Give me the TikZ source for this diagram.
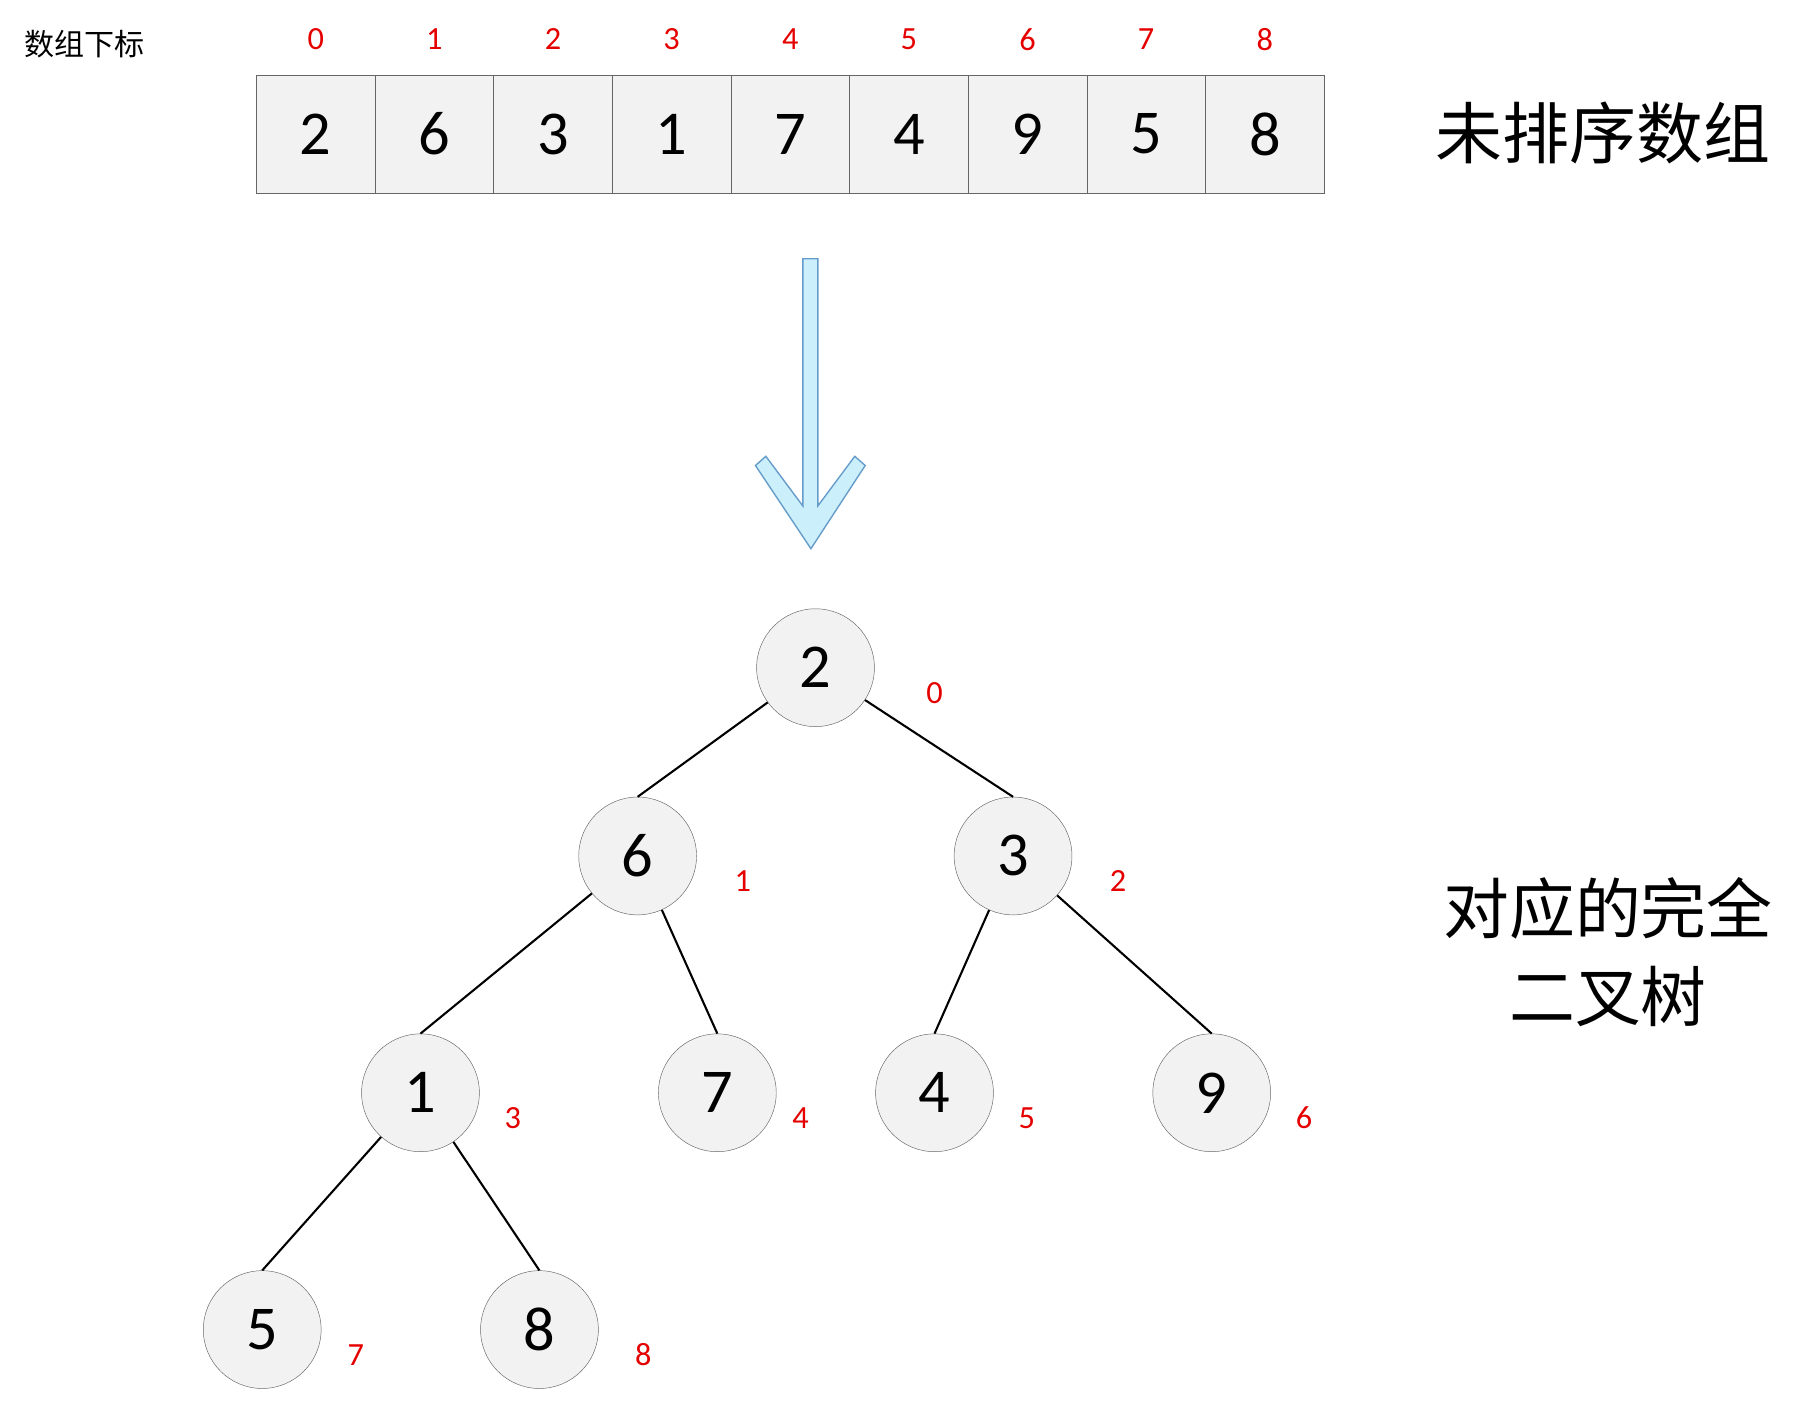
\documentclass[tikz,border=0pt]{standalone}
\usepackage{fontspec}
\setmainfont{Carlito}
\newfontfamily\cjk{Noto Sans CJK SC}
\begin{document}
\begin{tikzpicture}[x=1pt,y=-1pt,
  cell/.style={draw=gray!80!black,fill=black!5,minimum width=102.7pt,minimum height=102pt,inner sep=0,font=\fontsize{54}{60}\selectfont},
  idx/.style={text=red!90!black,font=\fontsize{28}{30}\selectfont},
  tnode/.style={circle,draw=gray!80!black,fill=black!5,minimum size=102pt,inner sep=0,font=\fontsize{54}{60}\selectfont},
  edge/.style={draw=black,line width=1.8pt}]
\useasboundingbox (0,0) rectangle (1560,1216);
\node[font=\cjk\fontsize{26}{28}\selectfont] (lab) at (73,38) {数组下标};
\foreach \v [count=\i from 0] in {2,6,3,1,7,4,9,5,8} {
  \node[cell] (c\i) at ({273.35+102.7*\i},116) {\v};
  \node[idx] (i\i) at ({273.35+102.7*\i},34) {\i};
}
\node[font=\cjk\fontsize{58}{62}\selectfont] (t1) at (1388,115) {未排序数组};
\node[font=\cjk\fontsize{57}{76}\selectfont,align=center] (t2) at (1392,824) {对应的完全\\二叉树};
\draw[draw=teal!70!blue!60,fill=cyan!20,line width=1.2pt]
 (695,224)--(708,224)--(708,438)--(740,395)--(749,403)--(702,475)--(654,403)--(663,395)--(695,438)--cycle;
\node[tnode] (n0) at (706,578) {2};
\node[tnode] (n1) at (552,741) {6};
\node[tnode] (n2) at (877,741) {3};
\node[tnode] (n3) at (364,946) {1};
\node[tnode] (n4) at (621,946) {7};
\node[tnode] (n5) at (809,946) {4};
\node[tnode] (n6) at (1049,946) {9};
\node[tnode] (n7) at (227,1151) {5};
\node[tnode] (n8) at (467,1151) {8};
\draw[edge] (n0)--(n1.north); \draw[edge] (n0)--(n2.north);
\draw[edge] (n1)--(n3.north); \draw[edge] (n1)--(n4.north);
\draw[edge] (n2)--(n5.north); \draw[edge] (n2)--(n6.north);
\draw[edge] (n3)--(n7.north); \draw[edge] (n3)--(n8.north);
\node[idx] (l0) at (809,600) {0};
\node[idx] (l1) at (643,763) {1};
\node[idx] (l2) at (968,763) {2};
\node[idx] (l3) at (444,968) {3};
\node[idx] (l4) at (693,968) {4};
\node[idx] (l5) at (889,968) {5};
\node[idx] (l6) at (1129,968) {6};
\node[idx] (l7) at (308,1173) {7};
\node[idx] (l8) at (557,1173) {8};
\end{tikzpicture}
\end{document}
